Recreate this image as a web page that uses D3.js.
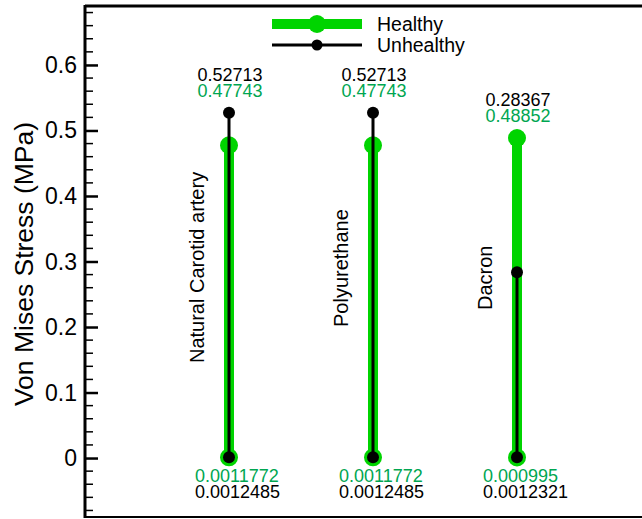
<!DOCTYPE html>
<html>
<head>
<meta charset="utf-8">
<script src="https://cdn.jsdelivr.net/npm/d3@7"></script>
<style>
  body { margin: 0; background: #fff; }
  svg { display: block; font-family: Arial, "Liberation Sans", sans-serif; }
</style>
</head>
<body>
<script>
let categories = ['Natural Carotid artery', 'Polyurethane', 'Dacron']
let healthyMax = [0.47743, 0.47743, 0.48852]
let healthyMin = [0.0011772, 0.0011772, 0.000995]
let unhealthyMax = [0.52713, 0.52713, 0.28367]
let unhealthyMin = [0.0012485, 0.0012485, 0.0012321]
let healthyMaxText = ['0.47743', '0.47743', '0.48852']
let healthyMinText = ['0.0011772', '0.0011772', '0.000995']
let unhealthyMaxText = ['0.52713', '0.52713', '0.28367']
let unhealthyMinText = ['0.0012485', '0.0012485', '0.0012321']
// value where each rotated category label starts
let labelAt = [0.145, 0.2, 0.226]
let yTicks = [0, 0.1, 0.2, 0.3, 0.4, 0.5, 0.6]

let width = 642, height = 519
let bright = '#00d400'
let textGreen = '#00a651'

let svg = d3.select('body').append('svg')
  .attr('width', width)
  .attr('height', height)

let y = d3.scaleLinear().domain([-0.09, 0.69]).range([517, 6])
let x = d3.scalePoint().domain(categories).range([229, 517])

// frame
svg.append('line').attr('x1', 85).attr('x2', width).attr('y1', 6).attr('y2', 6)
  .attr('stroke', 'black').attr('stroke-width', 3)
svg.append('line').attr('x1', 85).attr('x2', width).attr('y1', 517).attr('y2', 517)
  .attr('stroke', 'black').attr('stroke-width', 2)

// y axis, ticks pointing inside
let minor = d3.range(-0.08, 0.69, 0.02).filter(v => Math.abs(Math.round(v * 10) - v * 10) > 0.01)
let axis = svg.append('g').attr('transform', 'translate(85,0)')
axis.call(d3.axisRight(y).tickValues(yTicks).tickSize(13).tickFormat(''))
axis.select('.domain').remove()
axis.selectAll('.tick line').attr('stroke-width', 2.5)
axis.selectAll('.minor').data(minor).enter().append('line')
  .attr('x1', 0).attr('x2', 8)
  .attr('y1', d => y(d)).attr('y2', d => y(d))
  .attr('stroke', 'black').attr('stroke-width', 1.5)
axis.append('line').attr('x1', 0).attr('x2', 0).attr('y1', 5).attr('y2', 518)
  .attr('stroke', 'black').attr('stroke-width', 3)

svg.selectAll('.ylab').data(yTicks).enter().append('text')
  .attr('x', 77).attr('y', d => y(d) + 8)
  .attr('text-anchor', 'end').attr('font-size', 23)
  .text(d3.format('.1~f'))

svg.append('text')
  .attr('transform', 'translate(33,264) rotate(-90)')
  .attr('text-anchor', 'middle').attr('font-size', 26.5)
  .text('Von Mises Stress (MPa)')

// healthy range
categories.forEach((c, i) => {
  svg.append('line').attr('x1', x(c)).attr('x2', x(c))
    .attr('y1', y(healthyMin[i])).attr('y2', y(healthyMax[i]))
    .attr('stroke', bright).attr('stroke-width', 10)
  ;[healthyMin[i], healthyMax[i]].forEach(v => {
    svg.append('circle').attr('cx', x(c)).attr('cy', y(v)).attr('r', 9).attr('fill', bright)
  })
})

// unhealthy range
categories.forEach((c, i) => {
  svg.append('line').attr('x1', x(c)).attr('x2', x(c))
    .attr('y1', y(unhealthyMin[i])).attr('y2', y(unhealthyMax[i]))
    .attr('stroke', 'black').attr('stroke-width', 3)
  ;[unhealthyMin[i], unhealthyMax[i]].forEach(v => {
    svg.append('circle').attr('cx', x(c)).attr('cy', y(v)).attr('r', 6).attr('fill', 'black')
  })
})

// value labels
categories.forEach((c, i) => {
  let top = y(Math.max(healthyMax[i], unhealthyMax[i]))
  let label = (xx, yy, anchor, t, col) => svg.append('text')
    .attr('x', xx).attr('y', yy)
    .attr('text-anchor', anchor).attr('font-size', 18)
    .attr('fill', col).text(t)
  label(x(c) + 1, top - 16, 'middle', healthyMaxText[i], textGreen)
  label(x(c) + 1, top - 32, 'middle', unhealthyMaxText[i], 'black')
  label(x(c) - 34, y(0) + 24, 'start', healthyMinText[i], textGreen)
  label(x(c) - 34, y(0) + 40, 'start', unhealthyMinText[i], 'black')

  svg.append('text')
    .attr('transform', 'translate(' + (x(c) - 25) + ',' + y(labelAt[i]) + ') rotate(-90)')
    .attr('font-size', 20)
    .text(c)
})

// legend
let legend = svg.append('g')
legend.append('line').attr('x1', 272).attr('x2', 362).attr('y1', 24).attr('y2', 24)
  .attr('stroke', bright).attr('stroke-width', 10)
legend.append('circle').attr('cx', 317).attr('cy', 24).attr('r', 9).attr('fill', bright)
legend.append('line').attr('x1', 272).attr('x2', 362).attr('y1', 45).attr('y2', 45)
  .attr('stroke', 'black').attr('stroke-width', 3)
legend.append('circle').attr('cx', 317).attr('cy', 45).attr('r', 5.5).attr('fill', 'black')
legend.append('text').attr('x', 377).attr('y', 31).attr('font-size', 19.5).text('Healthy')
legend.append('text').attr('x', 377).attr('y', 52).attr('font-size', 19.5).text('Unhealthy')
</script>
</body>
</html>
